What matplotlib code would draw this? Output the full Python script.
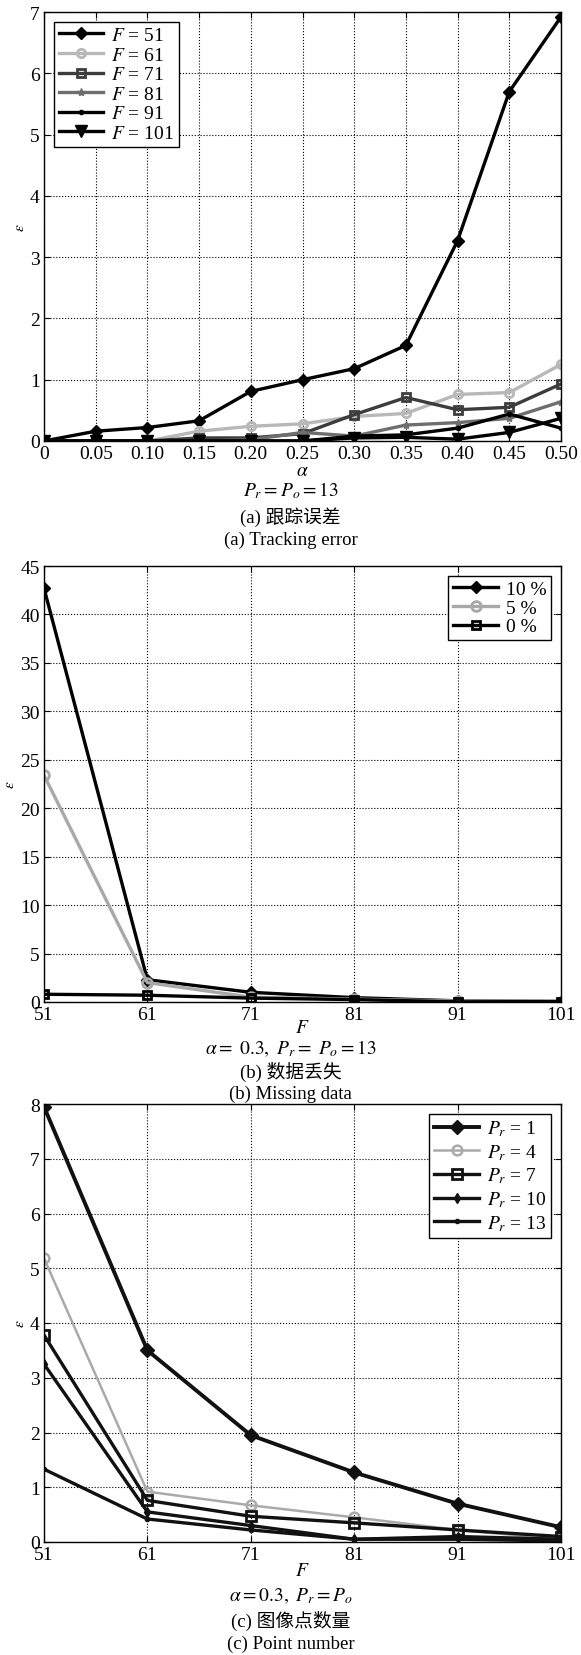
import numpy as np
import matplotlib
matplotlib.use('Agg')
import matplotlib.pyplot as plt

plt.rcParams['font.family'] = ['Liberation Serif', 'Noto Sans CJK SC']
plt.rcParams['mathtext.fontset'] = 'stix'
plt.rcParams['font.size'] = 14

# ---- panel (a): tracking error vs alpha ----
alpha = [0, 0.05, 0.10, 0.15, 0.20, 0.25, 0.30, 0.35, 0.40, 0.45, 0.50]
alpha_labels = ['0', '0.05', '0.10', '0.15', '0.20', '0.25', '0.30', '0.35', '0.40', '0.45', '0.50']
err_F51 = [0, 0.16, 0.22, 0.33, 0.81, 1.00, 1.18, 1.56, 3.27, 5.70, 6.92]
err_F61 = [0, 0.00, 0.00, 0.16, 0.24, 0.28, 0.40, 0.45, 0.76, 0.79, 1.25]
err_F71 = [0, 0.00, 0.00, 0.05, 0.05, 0.12, 0.43, 0.71, 0.51, 0.55, 0.93]
err_F81 = [0, 0.00, 0.00, 0.00, 0.02, 0.14, 0.08, 0.26, 0.30, 0.37, 0.64]
err_F91 = [0, 0.00, 0.00, 0.00, 0.00, 0.00, 0.08, 0.10, 0.21, 0.44, 0.21]
err_F101 = [0, 0.00, 0.00, 0.00, 0.00, 0.00, 0.05, 0.06, 0.03, 0.14, 0.37]

# ---- panel (b): missing data ----
F = [51, 61, 71, 81, 91, 101]
miss_10 = [42.7, 2.3, 1.0, 0.45, 0.12, 0.05]
miss_5 = [23.4, 2.0, 0.5, 0.3, 0.1, 0.05]
miss_0 = [0.8, 0.7, 0.4, 0.25, 0.02, 0.05]

# ---- panel (c): point number ----
pr_1 = [7.95, 3.50, 1.95, 1.27, 0.70, 0.27]
pr_4 = [5.18, 0.92, 0.67, 0.45, 0.22, 0.05]
pr_7 = [3.78, 0.76, 0.47, 0.35, 0.22, 0.10]
pr_10 = [3.25, 0.55, 0.30, 0.05, 0.10, 0.05]
pr_13 = [1.33, 0.42, 0.22, 0.05, 0.05, 0.02]

fig = plt.figure(figsize=(5.81, 16.56), dpi=100)

def style_axes(ax):
    ax.tick_params(direction='in', top=True, right=True, length=4, width=0.8, labelsize=14, pad=3)
    ax.grid(True, linestyle=':', color='k', linewidth=0.8)
    for s in ax.spines.values():
        s.set_linewidth(1.0)
        s.set_color('k')
    ax.set_ylabel(r'$\varepsilon$', fontsize=11, labelpad=2)

def add_legend(ax, loc, fs=14, spacing=0.05):
    leg = ax.legend(loc=loc, numpoints=1, handlelength=2.3, handletextpad=0.4,
                    labelspacing=spacing, borderpad=0.25, fancybox=False, fontsize=fs,
                    framealpha=1, edgecolor='k', borderaxespad=0.5)
    leg.get_frame().set_linewidth(1.0)
    return leg

lw = 2.4
L, W = 44 / 581, (561 - 44) / 581

# panel (a)
ax1 = fig.add_axes([L, 1 - 442 / 1656, W, (442 - 13) / 1656])
ax1.plot(alpha, err_F51, marker='D', color='k', lw=lw, ms=6, label=r'$F$ = 51')
ax1.plot(alpha, err_F61, marker='o', color='#b8b8b8', lw=lw, ms=6, mfc='none', mew=2, label=r'$F$ = 61')
ax1.plot(alpha, err_F71, marker='s', color='#3c3c3c', lw=lw, ms=6, mfc='none', mew=2, label=r'$F$ = 71')
ax1.plot(alpha, err_F81, marker='*', color='#6e6e6e', lw=lw, ms=6, label=r'$F$ = 81')
ax1.plot(alpha, err_F91, marker='.', color='k', lw=lw, ms=6, label=r'$F$ = 91')
ax1.plot(alpha, err_F101, marker='v', color='k', lw=lw, ms=9, label=r'$F$ = 101')
ax1.set_xlim(0, 0.5)
ax1.set_ylim(0, 7)
ax1.set_xticks(alpha)
ax1.set_xticklabels(alpha_labels)
ax1.set_yticks(range(0, 8))
style_axes(ax1)
add_legend(ax1, 'upper left', spacing=0.1)
ax1.set_xlabel(r'$\alpha$', fontsize=14, labelpad=0)

# panel (b)
ax2 = fig.add_axes([L, 1 - 1003 / 1656, W, (1003 - 567) / 1656])
ax2.plot(F, miss_10, marker='D', color='k', lw=lw, ms=6, label='10 %')
ax2.plot(F, miss_5, marker='o', color='#a8a8a8', lw=lw, ms=7, mfc='none', mew=2, label='5 %')
ax2.plot(F, miss_0, marker='s', color='k', lw=lw, ms=6, mfc='none', mew=2, label='0 %')
ax2.set_xlim(51, 101)
ax2.set_ylim(0, 45)
ax2.set_xticks(F)
ax2.set_yticks(range(0, 46, 5))
style_axes(ax2)
add_legend(ax2, 'upper right')
ax2.set_xlabel(r'$F$', fontsize=14, labelpad=-3)

# panel (c)
ax3 = fig.add_axes([L, 1 - 1543 / 1656, W, (1543 - 1105) / 1656])
ax3.plot(F, pr_1, marker='D', color='#111111', lw=2.8, ms=7, label=r'$P_r$ = 1')
ax3.plot(F, pr_4, marker='o', color='#aaaaaa', lw=1.8, ms=7, mfc='none', mew=1.8, label=r'$P_r$ = 4')
ax3.plot(F, pr_7, marker='s', color='#111111', lw=2.4, ms=7, mfc='none', mew=2, label=r'$P_r$ = 7')
ax3.plot(F, pr_10, marker='d', color='#111111', lw=2.4, ms=5, label=r'$P_r$ = 10')
ax3.plot(F, pr_13, marker='.', color='#111111', lw=2.4, ms=6, label=r'$P_r$ = 13')
ax3.set_xlim(51, 101)
ax3.set_ylim(0, 8)
ax3.set_xticks(F)
ax3.set_yticks(range(0, 9))
style_axes(ax3)
add_legend(ax3, 'upper right', spacing=0.2)
ax3.set_xlabel(r'$F$', fontsize=14, labelpad=-1)

H = 1656.0
def caption(y, s, fs=13):
    fig.text(0.5, 1 - y / H, s, ha='center', va='center', fontsize=fs)

caption(491, r'$P_r = P_o = 13$', 14)
caption(517, '(a) 跟踪误差', 13.5)
caption(540, '(a) Tracking error', 13.5)
caption(1049, r'$\alpha =\ 0.3,\ P_r =\ P_o = 13$', 14)
caption(1072, '(b) 数据丢失', 13.5)
caption(1094, '(b) Missing data', 13.5)
caption(1596, r'$\alpha = 0.3,\ P_r = P_o$', 14)
caption(1621, '(c) 图像点数量', 13.5)
caption(1644, '(c) Point number', 13.5)

fig.savefig('out.png', dpi=100)
